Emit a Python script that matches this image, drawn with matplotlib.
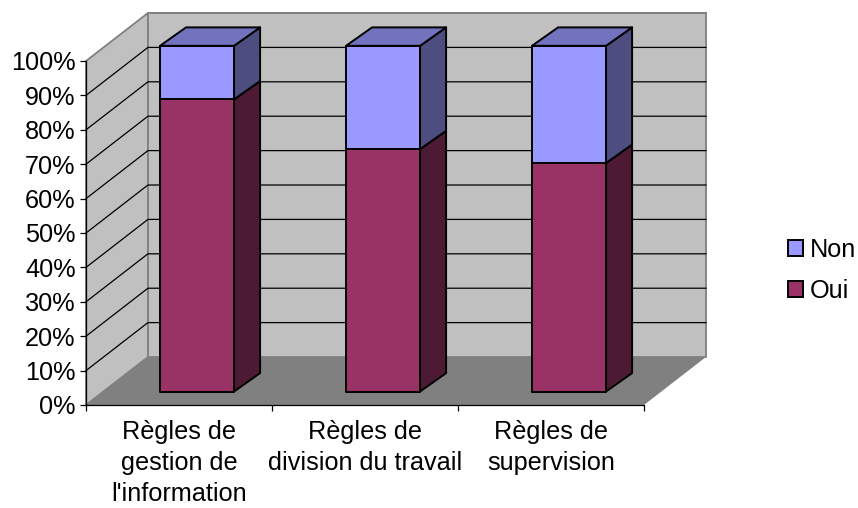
import matplotlib
matplotlib.use("Agg")
import matplotlib.pyplot as plt
from matplotlib.patches import Polygon, Patch

plt.rcParams['font.family'] = ['Liberation Sans', 'DejaVu Sans']

categories = ["Règles de\ngestion de\nl'information", "Règles de\ndivision du travail", "Règles de\nsupervision"]
oui = [84.5, 70.1, 66.1]
non = [15.5, 29.9, 33.9]
yticks = list(range(0, 101, 10))

RED = '#993366'
BLUE = '#9999FF'
RED_SIDE = '#4D1A33'
BLUE_SIDE = '#4D4D80'
BLUE_TOP = '#7272BF'
WALL = '#C0C0C0'
FLOOR = '#808080'

# oblique offsets, in data units (1 category / 1 percent)
WALL_DX, WALL_DY = 0.333, 13.95
BAR_FX, BAR_FY = 0.097, 3.92
BAR_DX, BAR_DY = 0.14, 5.35
BAR_W = 0.398
BAR_SCALE = 1.005

W, H = 858, 508
fig = plt.figure(figsize=(W / 100, H / 100), dpi=100)
ax = fig.add_axes([86 / W, 1 - 405 / H, 558 / W, 344 / H])
ax.set_xlim(0, 3)
ax.set_ylim(0, 100)
ax.patch.set_alpha(0)


def poly(pts, face, edge='none', lw=0, z=1):
    ax.add_patch(Polygon(pts, closed=True, facecolor=face, edgecolor=edge, linewidth=lw,
                         zorder=z, clip_on=False, joinstyle='round'))


# walls and floor
poly([(0, 0), (WALL_DX, WALL_DY), (WALL_DX, 100 + WALL_DY), (0, 100)], WALL, FLOOR, 1.3)
poly([(WALL_DX, WALL_DY), (3 + WALL_DX, WALL_DY), (3 + WALL_DX, 100 + WALL_DY), (WALL_DX, 100 + WALL_DY)], WALL, FLOOR, 1.3)
poly([(0, 0), (3, 0), (3 + WALL_DX, WALL_DY), (WALL_DX, WALL_DY)], FLOOR, z=1.5)

# gridlines along side wall and back wall
for v in yticks[1:-1]:
    ax.plot([0, WALL_DX, 3 + WALL_DX], [v, v + WALL_DY, v + WALL_DY], color='black', lw=0.9, zorder=1.2, clip_on=False)
ax.plot([WALL_DX, 3 + WALL_DX], [100 + WALL_DY] * 2, color=FLOOR, lw=1.3, zorder=1.2, clip_on=False)

# stacked bars
for i in range(len(categories)):
    x0 = i + 0.5 - BAR_W / 2 + BAR_FX
    x1 = x0 + BAR_W
    base = 0
    for val, face, side in ((oui[i], RED, RED_SIDE), (non[i], BLUE, BLUE_SIDE)):
        y0 = BAR_FY + base * BAR_SCALE
        y1 = BAR_FY + (base + val) * BAR_SCALE
        poly([(x1, y0), (x1 + BAR_DX, y0 + BAR_DY), (x1 + BAR_DX, y1 + BAR_DY), (x1, y1)], side, 'black', 1.4, 3)
        poly([(x0, y0), (x1, y0), (x1, y1), (x0, y1)], face, 'black', 1.4, 3)
        base += val
    y1 = BAR_FY + base * BAR_SCALE
    poly([(x0, y1), (x1, y1), (x1 + BAR_DX, y1 + BAR_DY), (x0 + BAR_DX, y1 + BAR_DY)], BLUE_TOP, 'black', 1.4, 3)

for s in ('top', 'right'):
    ax.spines[s].set_visible(False)
for s in ('left', 'bottom'):
    ax.spines[s].set_linewidth(0.9)
    ax.spines[s].set_zorder(2)

ax.set_yticks(yticks)
ax.set_yticklabels([str(v) + '%' for v in yticks], fontsize=18.2)
ax.tick_params(axis='y', length=4.5, width=0.9, pad=3)
ax.set_xticks([0, 1, 2, 3])
ax.set_xticklabels([])
ax.tick_params(axis='x', which='major', length=4.5, width=0.9)
ax.set_xticks([0.5, 1.5, 2.5], minor=True)
ax.set_xticklabels(categories, minor=True, fontsize=18.2, linespacing=1.36, ha='center', va='top')
ax.tick_params(axis='x', which='minor', length=0, pad=11)

handles = [Patch(facecolor=BLUE, edgecolor='black', linewidth=1.4, label='Non'),
           Patch(facecolor=RED, edgecolor='black', linewidth=1.4, label='Oui')]
ax.legend(handles=handles, loc='center left', bbox_to_anchor=(787.5 / W, 1 - 270.5 / H),
          bbox_transform=fig.transFigure, frameon=False, fontsize=18.2, handlelength=0.6,
          handleheight=0.6, handletextpad=0.28, labelspacing=0.7, borderpad=0, borderaxespad=0)

fig.savefig('out.png', dpi=100)
